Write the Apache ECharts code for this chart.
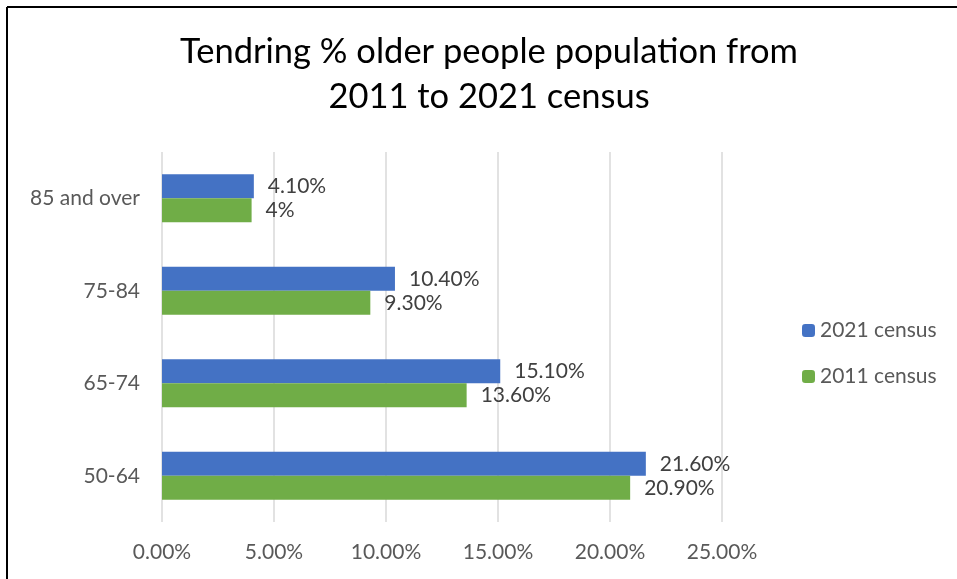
<!DOCTYPE html>
<html>
<head>
<meta charset="utf-8">
<script src="https://cdn.jsdelivr.net/npm/echarts@6/dist/echarts.min.js"></script>
<style>
  html, body { margin: 0; padding: 0; background: #fff; }
  #chart { width: 957px; height: 579px; }
</style>
</head>
<body>
<div id="chart"></div>
<script>
// categories, bottom to top
const ageGroups = ["50-64", "65-74", "75-84", "85 and over"];
const census2021 = [21.6, 15.1, 10.4, 4.1];
const census2011 = [20.9, 13.6, 9.3, 4];
const labels2021 = ["21.60%", "15.10%", "10.40%", "4.10%"];
const labels2011 = ["20.90%", "13.60%", "9.30%", "4%"];

const font = "Lato";
const chart = echarts.init(document.getElementById("chart"));

chart.setOption({
  animation: false,
  title: {
    text: "Tendring % older people population from\n2011 to 2021 census",
    left: 484,
    top: 24,
    textAlign: "center",
    textStyle: {
      fontFamily: font,
      fontWeight: "normal",
      fontSize: 34.5,
      lineHeight: 45,
      color: "#000"
    }
  },
  legend: {
    orient: "vertical",
    left: 797,
    top: 315,
    itemWidth: 13,
    itemHeight: 13,
    itemGap: 25,
    data: ["2021 census", "2011 census"],
    textStyle: { fontFamily: font, fontSize: 21, color: "#595959" }
  },
  grid: { left: 162, right: 235, top: 152, bottom: 57 },
  xAxis: {
    type: "value",
    min: 0,
    max: 25,
    interval: 5,
    axisLine: { show: false },
    axisTick: { show: false },
    splitLine: { lineStyle: { color: "#d9d9d9", width: 1.5 } },
    axisLabel: {
      margin: 20,
      fontFamily: font,
      fontSize: 21,
      color: "#595959",
      formatter: v => v.toFixed(2) + "%"
    }
  },
  yAxis: {
    type: "category",
    data: ageGroups,
    axisLine: { show: false },
    axisTick: { show: false },
    axisLabel: { margin: 22, fontFamily: font, fontSize: 21, color: "#595959" }
  },
  series: [
    {
      name: "2021 census",
      type: "bar",
      data: census2021,
      barWidth: 24,
      barGap: "0%",
      itemStyle: { color: "#4472C4" },
      label: {
        show: true,
        position: "right",
        distance: 14,
        fontFamily: font,
        fontSize: 21,
        color: "#404040",
        formatter: p => labels2021[p.dataIndex]
      }
    },
    {
      name: "2011 census",
      type: "bar",
      data: census2011,
      barWidth: 24,
      barGap: "0%",
      itemStyle: { color: "#70AD47" },
      label: {
        show: true,
        position: "right",
        distance: 14,
        fontFamily: font,
        fontSize: 21,
        color: "#404040",
        formatter: p => labels2011[p.dataIndex]
      }
    }
  ],
  graphic: [
    { type: "line", shape: { x1: 7, y1: 7, x2: 957, y2: 7 }, style: { stroke: "#000", lineWidth: 2 } },
    { type: "line", shape: { x1: 7, y1: 7, x2: 7, y2: 579 }, style: { stroke: "#000", lineWidth: 2 } }
  ]
});
</script>
</body>
</html>
